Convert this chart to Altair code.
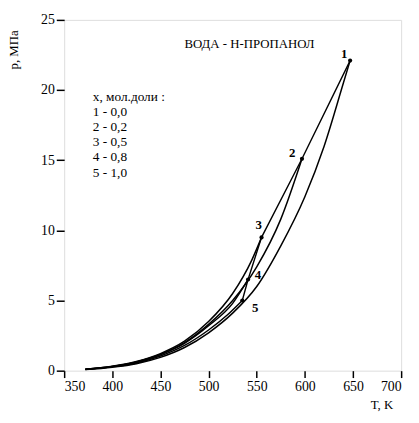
import altair as alt
import pandas as pd

# vapour-pressure curves (T, K ; p, MPa)
T1 = [372, 400, 425, 450, 475, 500, 525, 550, 575, 600, 620, 640, 647]
P1 = [0.08, 0.25, 0.5, 0.95, 1.65, 2.7, 4.1, 6.0, 8.9, 12.4, 16.0, 20.5, 22.1]
T2 = [372, 400, 425, 450, 475, 500, 525, 550, 575, 597]
P2 = [0.1, 0.3, 0.62, 1.15, 2.0, 3.3, 5.0, 7.4, 10.8, 15.1]
T3 = [372, 400, 425, 450, 475, 500, 525, 545, 555]
P3 = [0.11, 0.32, 0.66, 1.22, 2.1, 3.5, 5.5, 7.9, 9.5]
T4 = [372, 400, 425, 450, 475, 500, 525, 541]
P4 = [0.1, 0.3, 0.6, 1.15, 1.95, 3.2, 4.8, 6.5]
T5 = [372, 400, 425, 450, 475, 500, 520, 535]
P5 = [0.09, 0.27, 0.55, 1.05, 1.8, 2.9, 4.0, 5.0]

# critical points
crit_T = [647, 597, 555, 541, 535]
crit_P = [22.1, 15.1, 9.5, 6.5, 5.0]
crit_lab = ["1", "2", "3", "4", "5"]

legend_lines = ["x, мол.доли :", "1 - 0,0", "2 - 0,2", "3 - 0,5", "4 - 0,8", "5 - 1,0"]
title_text = "ВОДА - Н-ПРОПАНОЛ"

FONT = "serif"

rows = []
for k, (T, P) in enumerate([(T1, P1), (T2, P2), (T3, P3), (T4, P4), (T5, P5)]):
    for t, p in zip(T, P):
        rows.append({"T": t, "p": p, "s": str(k + 1)})
curves = pd.DataFrame(rows)
crit = pd.DataFrame({"T": crit_T, "p": crit_P, "lab": crit_lab, "o": list(range(5))})

xs = alt.Scale(domain=[350, 700], nice=False)
ys = alt.Scale(domain=[0, 25], nice=False)

xax = alt.Axis(values=list(range(350, 701, 50)), title="T, K", grid=False,
               tickSize=7, tickColor="black", tickWidth=1.5, domain=False, labelFont=FONT,
               labelFontSize=14, labelColor="black", labelPadding=2,
               titleFont=FONT, titleFontSize=13, titleFontWeight="normal",
               titleColor="black", titleX=322, titleY=34, titleAlign="center",
               titleBaseline="middle")
yax = alt.Axis(values=list(range(0, 26, 5)), title="p, МПа", grid=False,
               tickSize=8, tickColor="black", tickWidth=1.5, domain=False, labelFont=FONT,
               labelFontSize=14, labelColor="black", labelPadding=2,
               titleFont=FONT, titleFontSize=13, titleFontWeight="normal",
               titleColor="black", titleX=-44, titleY=30, titleAngle=-90,
               titleAlign="center")

lines = alt.Chart(curves).mark_line(color="black", strokeWidth=1.5, interpolate="monotone").encode(
    x=alt.X("T:Q", scale=xs, axis=xax),
    y=alt.Y("p:Q", scale=ys, axis=yax),
    detail="s:N",
)

locus = alt.Chart(crit).mark_line(color="black", strokeWidth=1.4).encode(
    x=alt.X("T:Q", scale=xs), y=alt.Y("p:Q", scale=ys), order="o:Q"
)

dots = alt.Chart(crit).mark_point(filled=True, color="black", size=18, opacity=1).encode(
    x=alt.X("T:Q", scale=xs), y=alt.Y("p:Q", scale=ys)
)

offs = {"1": (-6, -7), "2": (-10, -6), "3": (-3, -12), "4": (10, -4), "5": (13, 8)}
labels = []
for l in crit_lab:
    sub = crit[crit["lab"] == l]
    labels.append(
        alt.Chart(sub).mark_text(font=FONT, fontSize=13, fontWeight="bold", color="black",
                                 dx=offs[l][0], dy=offs[l][1]).encode(
            x=alt.X("T:Q", scale=xs), y=alt.Y("p:Q", scale=ys), text="lab:N"
        )
    )

title = alt.Chart(pd.DataFrame({"t": [title_text]})).mark_text(
    font=FONT, fontSize=13, color="black", align="center", baseline="middle"
).encode(x=alt.value(188), y=alt.value(25), text="t:N")

legend = alt.Chart(pd.DataFrame({"t": ["\n".join(legend_lines)]})).mark_text(
    font=FONT, fontSize=13.5, color="black", align="left", baseline="middle",
    lineBreak="\n", lineHeight=15.4
).encode(x=alt.value(29), y=alt.value(78), text="t:N")

chart = alt.layer(lines, locus, dots, *labels, title, legend).properties(
    width=342, height=356,
    padding={"left": 57, "top": 9, "right": 10, "bottom": 48},
    autosize=alt.AutoSizeParams(type="none"),
).configure_view(stroke="black", strokeWidth=1.5).configure(background="white")

chart.save("out.html", embed_options={"renderer": "svg", "actions": False})
